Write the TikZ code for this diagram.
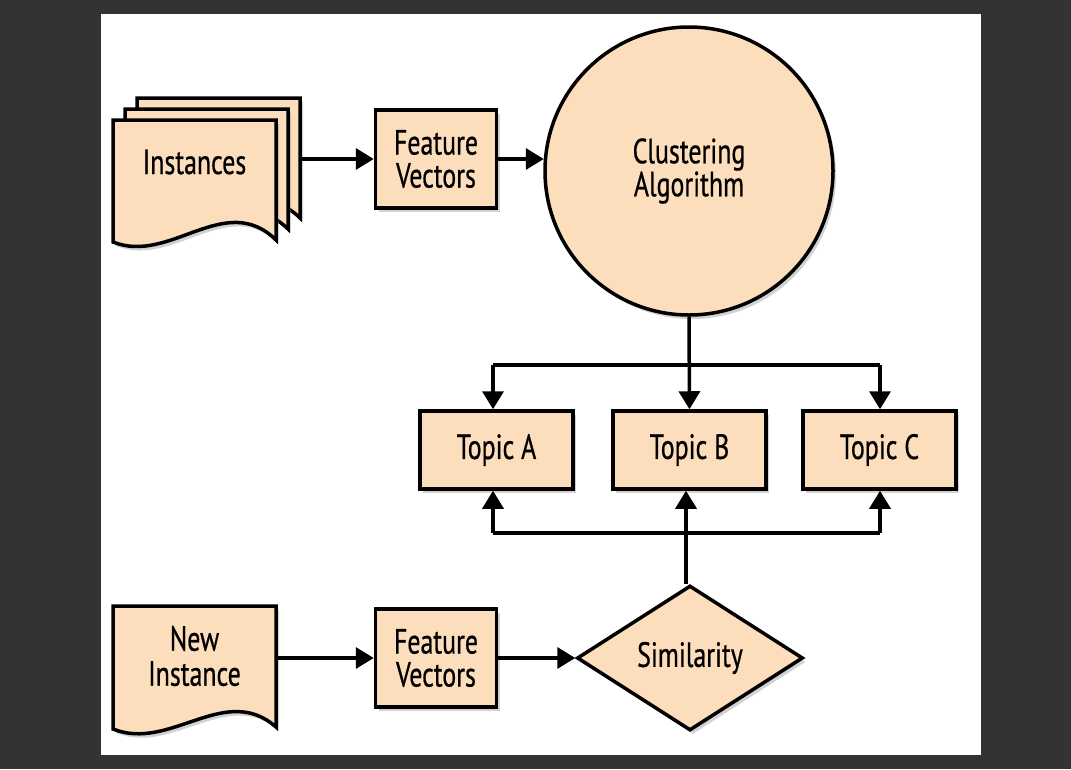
\documentclass[tikz,border=0pt]{standalone}
\usepackage{fontspec}
\setmainfont[FakeStretch=0.74,FakeBold=0.6]{PT Sans}
\usetikzlibrary{shapes.geometric,arrows.meta,shadows}
\definecolor{peach}{RGB}{252,222,188}
\definecolor{darkbg}{RGB}{51,51,51}
\tikzset{
  shade/.style={drop shadow={opacity=0.35,shadow xshift=3pt,shadow yshift=-4pt}},
  boxnode/.style={draw=black,line width=3.5pt,fill=peach,shade,align=center,font=\fontsize{35}{33}\selectfont,inner sep=0pt},
  docshape/.style={draw=black,line width=3.5pt,fill=peach,shade,line join=miter},
  conn/.style={line width=3.5pt,-{Triangle[length=18pt,width=21pt]}},
  plain/.style={line width=3.5pt},
  txt/.style={align=center,font=\fontsize{35}{35}\selectfont,inner sep=0pt}
}
\begin{document}
\begin{tikzpicture}[x=1pt,y=-1pt]
\fill[darkbg] (0,0) rectangle (1071,769);
\fill[white] (101,14) rectangle (981,755);
\useasboundingbox (0,0) rectangle (1071,769);

% Instances stack
\foreach \dx/\dy in {24/-22,12/-11,0/0}{
  \draw[docshape] (113+\dx,120+\dy) -- (276+\dx,120+\dy) -- (276+\dx,240+\dy)
    .. controls (225+\dx,190+\dy) and (170+\dx,265+\dy) .. (113+\dx,242+\dy) -- cycle;
}
\node[txt,minimum width=163pt,minimum height=100pt] (inst) at (194.5,162) {Instances};
\coordinate (instE) at (300,159);

% New Instance
\draw[docshape] (113,606) -- (276,606) -- (276,727)
  .. controls (225,682) and (170,752) .. (113,729) -- cycle;
\node[txt,minimum width=163pt,minimum height=100pt] (newinst) at (194.5,656) {New\\Instance};
\coordinate (newE) at (276,658);

% Feature vectors
\node[boxnode,minimum width=121pt,minimum height=98pt] (fv1) at (436,159) {Feature\\Vectors};
\node[boxnode,minimum width=121pt,minimum height=98pt] (fv2) at (436,658) {Feature\\Vectors};

% Clustering algorithm
\node[boxnode,circle,minimum size=288pt] (clu) at (689,171) {Clustering\\Algorithm};

% Topics
\node[boxnode,minimum width=153pt,minimum height=78pt] (ta) at (496.5,450) {Topic A};
\node[boxnode,minimum width=153pt,minimum height=78pt] (tb) at (689.5,450) {Topic B};
\node[boxnode,minimum width=153pt,minimum height=78pt] (tc) at (879.5,450) {Topic C};

% Similarity
\node[boxnode,diamond,minimum width=226pt,minimum height=145pt,aspect=1.56] (sim) at (690,658) {Similarity};

% connectors
\draw[conn] (instE) -- (fv1.west);
\draw[conn] (fv1.east) -- ([xshift=0.5pt]clu.west |- fv1.east);
\draw[conn] (newE) -- (fv2.west);
\draw[conn] (fv2.east) -- (sim.west);

\coordinate (topL) at (493,365);
\coordinate (topR) at (880,365);
\draw[conn] (clu.south) -- (tb.north);
\draw[plain] (topL) -- (topR);
\draw[conn] (topL) -- (topL |- ta.north);
\draw[conn] (topR) -- (topR |- tc.north);

\coordinate (botL) at (493,533);
\coordinate (botR) at (880,533);
\coordinate (botM) at (686,533);
\draw[conn] (sim.north -| botM) -- (botM |- tb.south);
\draw[plain] (botL) -- (botR);
\draw[conn] (botL) -- (botL |- ta.south);
\draw[conn] (botR) -- (botR |- tc.south);
\end{tikzpicture}
\end{document}
